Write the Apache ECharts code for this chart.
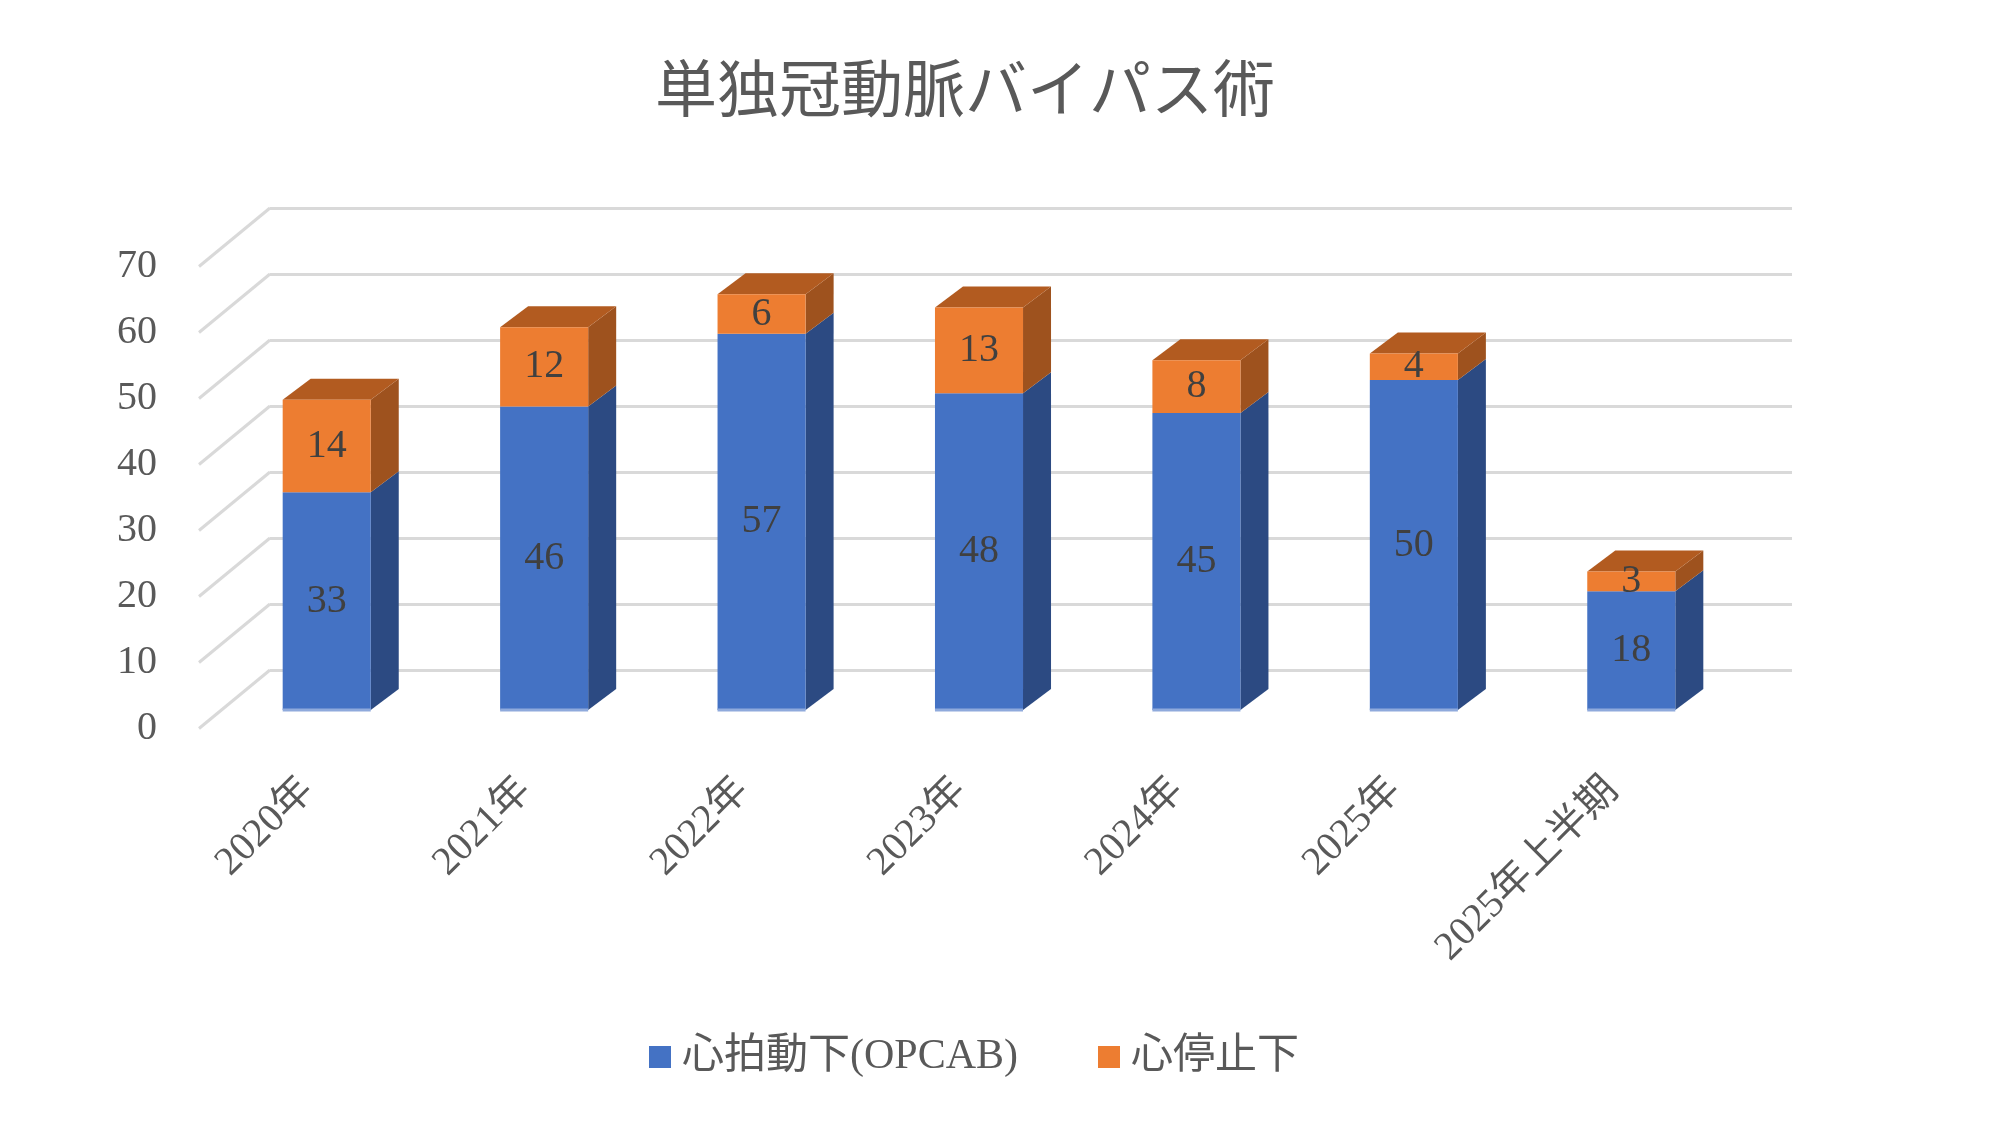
<!DOCTYPE html>
<html lang="ja">

<head>
    <meta charset="UTF-8">
    <title>単独冠動脈バイパス術</title>
    <style type="text/css">
        html, body {
            margin: 0;
            padding: 0;
            background: #ffffff;
        }

        #main {
            width: 2000px;
            height: 1125px;
        }
    </style>
</head>

<body>
    <div id="main"></div>
    <script type="text/javascript" src="https://cdn.jsdelivr.net/npm/echarts@6/dist/echarts.min.js"></script>
    <script type="text/javascript">
        // データ
        var categories = ['2020年', '2021年', '2022年', '2023年', '2024年', '2025年', '2025年上半期'];
        var beating = [33, 46, 57, 48, 45, 50, 18];   // 心拍動下(OPCAB)
        var arrested = [14, 12, 6, 13, 8, 4, 3];      // 心停止下
        var yTicks = [0, 10, 20, 30, 40, 50, 60, 70];

        // 擬似3Dの奥行き (px)
        var BAR_GRID = { left: 218, right: 260, top: 248, bottom: 415 };
        var FRONT = [-19, 18.5];   // 前面 (軸ラベル)
        var BACK = [52, -40];      // 背面 (目盛線)
        var DEPTH = [28, -21];     // 棒の奥行き
        var BAR_RATIO = 0.405;

        var SERIF = '"Liberation Serif", "Noto Sans CJK JP", serif';
        var SANS = '"Noto Sans CJK JP", sans-serif';
        var GRID_COLOR = '#D9D9D9';

        function shiftGrid(off) {
            return {
                left: BAR_GRID.left + off[0],
                right: BAR_GRID.right - off[0],
                top: BAR_GRID.top + off[1],
                bottom: BAR_GRID.bottom - off[1]
            };
        }

        // 積み上げ値
        var beatingData = [], arrestedData = [];
        for (let i = 0; i < categories.length; i++) {
            beatingData.push([i, 0, beating[i], beating[i]]);
            arrestedData.push([i, beating[i], beating[i] + arrested[i], arrested[i]]);
        }

        function barItem(front, side, top, edge) {
            return function (params, api) {
                var i = api.value(0);
                var lo = api.coord([i, api.value(1)]);
                var hi = api.coord([i, api.value(2)]);
                var w = api.size([1, 0])[0] * BAR_RATIO;
                var xl = lo[0] - w / 2, xr = lo[0] + w / 2;
                var dx = DEPTH[0], dy = DEPTH[1];
                var kids = [{
                    type: 'polygon',
                    shape: { points: [[xr, lo[1]], [xr + dx, lo[1] + dy], [xr + dx, hi[1] + dy], [xr, hi[1]]] },
                    style: { fill: side }
                }];
                if (top) {
                    kids.push({
                        type: 'polygon',
                        shape: { points: [[xl, hi[1]], [xl + dx, hi[1] + dy], [xr + dx, hi[1] + dy], [xr, hi[1]]] },
                        style: { fill: top }
                    });
                }
                kids.push({
                    type: 'rect',
                    shape: { x: xl, y: hi[1], width: w, height: lo[1] - hi[1] },
                    style: { fill: front }
                });
                if (edge) {
                    kids.push({
                        type: 'line',
                        shape: { x1: xl, y1: lo[1], x2: xr, y2: lo[1] },
                        style: { stroke: edge, lineWidth: 3 }
                    });
                }
                kids.push({
                    type: 'text',
                    x: lo[0],
                    y: (lo[1] + hi[1]) / 2,
                    style: {
                        text: String(api.value(3)),
                        fill: '#404040',
                        fontSize: 40,
                        fontFamily: SERIF,
                        align: 'center',
                        verticalAlign: 'middle'
                    }
                });
                return { type: 'group', children: kids };
            };
        }

        // 左側の斜めの目盛線
        function diagItem(params, api) {
            var p = api.coord([0, api.value(1)]);
            var x0 = params.coordSys.x;
            return {
                type: 'line',
                shape: { x1: x0, y1: p[1], x2: x0 + BACK[0] - FRONT[0], y2: p[1] + BACK[1] - FRONT[1] },
                style: { stroke: GRID_COLOR, lineWidth: 3 }
            };
        }

        var myChart = echarts.init(document.getElementById('main'));
        var valueAxis = { type: 'value', min: 0, max: 70, interval: 10 };

        var option = {
            backgroundColor: '#ffffff',
            animation: false,
            title: {
                text: '単独冠動脈バイパス術',
                left: 960,
                textAlign: 'center',
                top: 52,
                textStyle: { fontSize: 62, fontWeight: 'normal', color: '#595959', fontFamily: SANS }
            },
            legend: {
                data: ['心拍動下(OPCAB)', '心停止下'],
                left: 644,
                top: 1031,
                icon: 'rect',
                itemWidth: 22,
                itemHeight: 22,
                itemGap: 80,
                textStyle: { fontSize: 42, color: '#595959', fontFamily: SERIF, padding: [0, 0, 0, 6] }
            },
            grid: [
                Object.assign({}, shiftGrid(FRONT)),
                Object.assign({}, BAR_GRID),
                Object.assign({}, shiftGrid(BACK))
            ],
            xAxis: [
                {
                    type: 'category', gridIndex: 0, data: categories,
                    axisLine: { show: false }, axisTick: { show: false },
                    axisLabel: { rotate: 45, margin: 56, fontSize: 40, color: '#595959', fontFamily: SERIF, interval: 0 }
                },
                { type: 'category', gridIndex: 1, data: categories, show: false },
                { type: 'category', gridIndex: 2, data: categories, show: false }
            ],
            yAxis: [
                Object.assign({}, valueAxis, {
                    gridIndex: 0,
                    axisLine: { show: false }, axisTick: { show: false }, splitLine: { show: false },
                    axisLabel: { margin: 42, fontSize: 40, color: '#595959', fontFamily: SERIF }
                }),
                Object.assign({}, valueAxis, { gridIndex: 1, show: false }),
                Object.assign({}, valueAxis, {
                    gridIndex: 2,
                    axisLine: { show: false }, axisTick: { show: false }, axisLabel: { show: false },
                    splitLine: { show: true, lineStyle: { color: GRID_COLOR, width: 3 } }
                })
            ],
            series: [
                {
                    type: 'custom',
                    xAxisIndex: 0, yAxisIndex: 0,
                    renderItem: diagItem,
                    data: yTicks.map(function (v) { return [0, v]; }),
                    silent: true,
                    z: 1
                },
                {
                    name: '心拍動下(OPCAB)',
                    type: 'custom',
                    xAxisIndex: 1, yAxisIndex: 1,
                    renderItem: barItem('#4472C4', '#2C4A82', null, '#8FAADC'),
                    itemStyle: { color: '#4472C4' },
                    encode: { x: 0, y: [1, 2] },
                    data: beatingData,
                    z: 3
                },
                {
                    name: '心停止下',
                    type: 'custom',
                    xAxisIndex: 1, yAxisIndex: 1,
                    renderItem: barItem('#ED7D31', '#9E521E', '#B25B20', null),
                    itemStyle: { color: '#ED7D31' },
                    encode: { x: 0, y: [1, 2] },
                    data: arrestedData,
                    z: 3
                }
            ]
        };

        myChart.setOption(option);
    </script>
</body>

</html>
